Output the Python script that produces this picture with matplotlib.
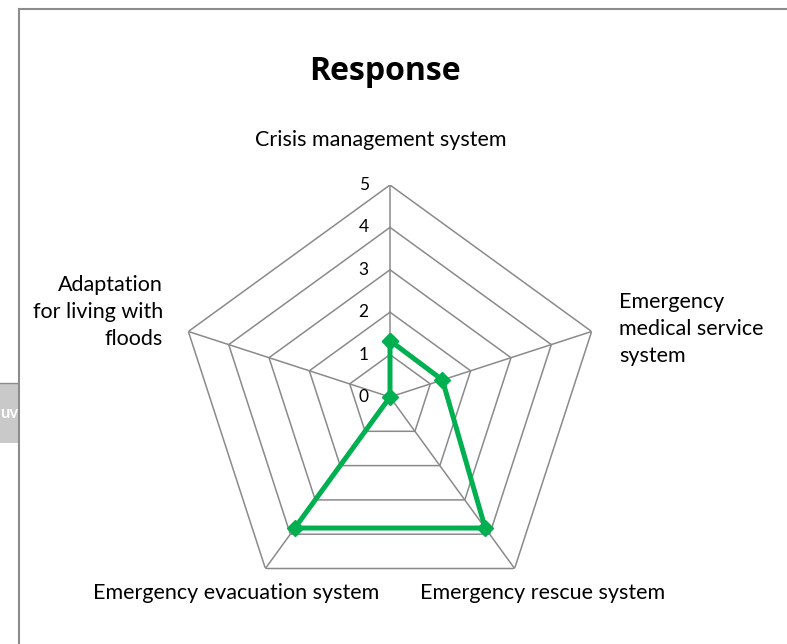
import numpy as np
import matplotlib
matplotlib.use("Agg")
import matplotlib.pyplot as plt
from matplotlib.lines import Line2D
from matplotlib.patches import Rectangle

categories = ["Crisis management system", "Emergency\nmedical service\nsystem",
              "Emergency rescue system", "Emergency evacuation system",
              "Adaptation\nfor living with\nfloods"]
values = [1.33, 1.3, 3.82, 3.82, 0.0]
rticks = [0, 1, 2, 3, 4, 5]
title = "Response"

W, H = 787, 644
fig = plt.figure(figsize=(W / 100, H / 100), dpi=100)
plt.rcParams['font.family'] = ['Lato', 'DejaVu Sans']

def fx(x):
    return x / W

def fy(y):
    return 1 - y / H

cx, cy, R = 390, 397, 212
ax = fig.add_axes([fx(cx - R), fy(cy + R), 2 * R / W, 2 * R / H], projection='polar')
ax.set_theta_offset(np.pi / 2)
ax.set_theta_direction(-1)
ax.set_ylim(0, 5)
ax.grid(False)
ax.set_xticks([])
ax.set_yticks([])
ax.spines['polar'].set_visible(False)
ax.patch.set_alpha(0)

n = len(categories)
angles = np.arange(n) * 2 * np.pi / n
gcol = "#8a8a8a"
for r in rticks[1:]:
    ax.plot(np.append(angles, angles[0]), [r] * (n + 1), color=gcol, lw=1.1, zorder=1)
for a in angles:
    ax.plot([a, a], [0, rticks[-1]], color=gcol, lw=1.1, zorder=1)

ax.plot(np.append(angles, angles[0]), values + [values[0]], color="#00b050", lw=3.6,
        marker="D", ms=8.5, zorder=3, clip_on=False)

for r in rticks:
    ax.annotate(str(r), xy=(0, r), xytext=(-19, 0), textcoords="offset points",
                ha="center", va="center", fontsize=12.5, color="#000000")

# category labels
fs = 15.5
fig.text(fx(381), fy(140), categories[0], ha="center", va="center", fontsize=fs)
fig.text(fx(619), fy(329), categories[1], ha="left", va="center", fontsize=fs, linespacing=1.45)
fig.text(fx(543), fy(593), categories[2], ha="center", va="center", fontsize=fs)
fig.text(fx(236), fy(593), categories[3], ha="center", va="center", fontsize=fs)
fig.text(fx(163), fy(312), categories[4], ha="right", va="center", fontsize=fs, linespacing=1.45)

fig.text(fx(385), fy(71), title, ha="center", va="center", fontsize=23, fontweight="bold",
         family=['Open Sans', 'DejaVu Sans'])

# chart frame
bc = "#8c8c8c"
fig.add_artist(Line2D([fx(19), 1], [fy(9), fy(9)], color=bc, lw=1.5, transform=fig.transFigure))
fig.add_artist(Line2D([fx(19), fx(19)], [fy(9), 0], color=bc, lw=1.5, transform=fig.transFigure))
fig.add_artist(Line2D([0, fx(18)], [fy(383), fy(383)], color=bc, lw=1.0, transform=fig.transFigure))
rect = Rectangle((0, fy(443)), fx(18), fy(383) - fy(443), transform=fig.transFigure,
                 facecolor="#c9c9c9", edgecolor="none")
fig.add_artist(rect)
t = fig.text(fx(18), fy(413), "uv", ha="right", va="center", fontsize=12,
             fontweight="bold", color="white")
t.set_clip_path(rect)

fig.savefig("out.png", dpi=100)
